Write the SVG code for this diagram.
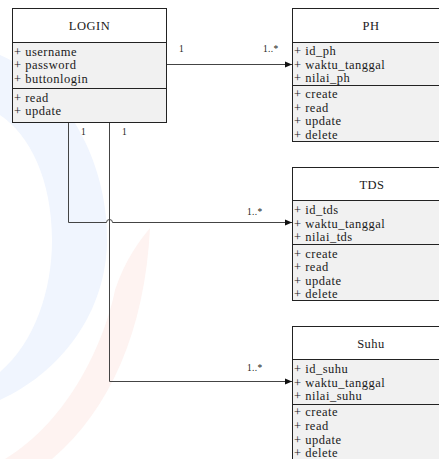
<svg xmlns="http://www.w3.org/2000/svg" width="439" height="459" viewBox="0 0 439 459">
<style>
.t{font-size:12.5px;letter-spacing:0.5px;fill:#1a1a1a}
.h{font-size:12.5px;letter-spacing:0.5px;text-anchor:middle;fill:#1a1a1a}
.m{font-size:9.5px;letter-spacing:0.3px;fill:#1a1a1a}
.hd{fill:#ffffff;stroke:#222;stroke-width:1}
.sec{fill:#f1f1f1;stroke:#222;stroke-width:1}
.c{fill:none;stroke:#444;stroke-width:1}
</style>
<defs>
<marker id="arr" markerWidth="8" markerHeight="8" refX="7" refY="4" orient="auto" markerUnits="userSpaceOnUse">
<path d="M0,1 L7,4 L0,7 Z" fill="#111"/>
</marker>
</defs>
<rect width="439" height="459" fill="#ffffff"/>
<g id="watermark">
<path d="M0,55 C70,85 110,170 107,245 C104,320 55,375 0,400 L0,372 C35,342 52,290 52,240 C52,180 30,135 0,115 Z" fill="#f0f5fe"/>
<path d="M150,228 C145,330 110,410 52,459 L5,459 C70,420 105,340 115,290 C125,260 140,240 150,228 Z" fill="#fef3f1"/>
</g>
<g id="connectors" font-family="'Liberation Serif', 'Times New Roman', 'DejaVu Serif', serif">
<path class="c" d="M166.5,64.5 L292,64.5" marker-end="url(#arr)"/>
<path class="c" d="M68.5,122.5 L68.5,222.5 L106.5,222.5 A3,3 0 0 1 112.5,222.5 L292,222.5" marker-end="url(#arr)"/>
<path class="c" d="M109.5,122.5 L109.5,381.5 L292,381.5" marker-end="url(#arr)"/>
<text class="m" x="179" y="52">1</text>
<text class="m" x="263" y="52">1..*</text>
<text class="m" x="81" y="135">1</text>
<text class="m" x="122" y="135">1</text>
<text class="m" x="247" y="215">1..*</text>
<text class="m" x="247" y="371">1..*</text>
</g>
<g id="login" font-family="'Liberation Serif', 'Times New Roman', 'DejaVu Serif', serif">
<rect class="hd" x="12.5" y="8.5" width="154" height="34"/>
<rect class="sec" x="12.5" y="42.5" width="154" height="46"/>
<rect class="sec" x="12.5" y="88.5" width="154" height="34"/>
<text class="h" x="89.5" y="29.5">LOGIN</text>
<text class="t" x="14" y="55.5">+ username</text>
<text class="t" x="14" y="69">+ password</text>
<text class="t" x="14" y="82.5">+ buttonlogin</text>
<text class="t" x="14" y="101.5">+ read</text>
<text class="t" x="14" y="115">+ update</text>
</g>
<g id="ph" font-family="'Liberation Serif', 'Times New Roman', 'DejaVu Serif', serif">
<rect class="hd" x="292.5" y="8.5" width="157" height="34"/>
<rect class="sec" x="292.5" y="42.5" width="157" height="43"/>
<rect class="sec" x="292.5" y="85.5" width="157" height="56"/>
<text class="h" x="371" y="29.5">PH</text>
<text class="t" x="294" y="55">+ id_ph</text>
<text class="t" x="294" y="68.5">+ waktu_tanggal</text>
<text class="t" x="294" y="82">+ nilai_ph</text>
<text class="t" x="294" y="98">+ create</text>
<text class="t" x="294" y="112">+ read</text>
<text class="t" x="294" y="125">+ update</text>
<text class="t" x="294" y="139">+ delete</text>
</g>
<g id="tds" font-family="'Liberation Serif', 'Times New Roman', 'DejaVu Serif', serif">
<rect class="hd" x="292.5" y="167.5" width="157" height="33"/>
<rect class="sec" x="292.5" y="200.5" width="157" height="44"/>
<rect class="sec" x="292.5" y="244.5" width="157" height="56"/>
<text class="h" x="372" y="189">TDS</text>
<text class="t" x="294" y="214">+ id_tds</text>
<text class="t" x="294" y="227.5">+ waktu_tanggal</text>
<text class="t" x="294" y="241">+ nilai_tds</text>
<text class="t" x="294" y="257.5">+ create</text>
<text class="t" x="294" y="271">+ read</text>
<text class="t" x="294" y="284.5">+ update</text>
<text class="t" x="294" y="298">+ delete</text>
</g>
<g id="suhu" font-family="'Liberation Serif', 'Times New Roman', 'DejaVu Serif', serif">
<rect class="hd" x="292.5" y="326.5" width="157" height="33"/>
<rect class="sec" x="292.5" y="359.5" width="157" height="45"/>
<rect class="sec" x="292.5" y="404.5" width="157" height="57"/>
<text class="h" x="371" y="347.5">Suhu</text>
<text class="t" x="294" y="373">+ id_suhu</text>
<text class="t" x="294" y="386.5">+ waktu_tanggal</text>
<text class="t" x="294" y="400">+ nilai_suhu</text>
<text class="t" x="294" y="416">+ create</text>
<text class="t" x="294" y="430">+ read</text>
<text class="t" x="294" y="443.5">+ update</text>
<text class="t" x="294" y="457">+ delete</text>
</g>
</svg>
